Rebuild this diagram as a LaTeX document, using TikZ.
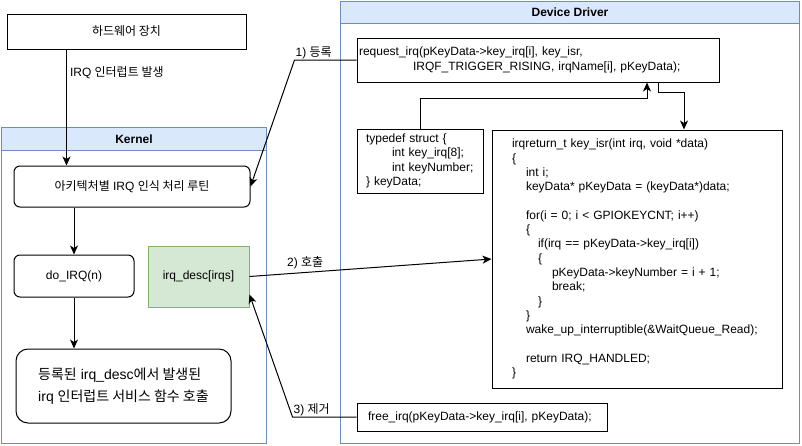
\documentclass[tikz,border=0pt]{standalone}
\usepackage{fontspec}
\setmainfont{Liberation Sans}
\newfontfamily\kr{Noto Sans CJK KR}
\usetikzlibrary{arrows.meta,calc}
\definecolor{bluefill}{HTML}{DAE8FC}
\definecolor{bluestroke}{HTML}{6C8EBF}
\definecolor{greenfill}{HTML}{D5E8D4}
\definecolor{greenstroke}{HTML}{82B366}
\tikzset{
 base/.style={draw=black, line width=1pt, inner sep=0pt, font=\fontsize{12}{14.3}\selectfont},
 box/.style={base, rectangle},
 rbox/.style={base, rounded corners=6pt},
 code/.style={box, align=left},
 cont/.style={draw=bluestroke, line width=1pt, inner sep=0pt},
 head/.style={draw=bluestroke, fill=bluefill, line width=1pt, inner sep=0pt, font=\bfseries\fontsize{12}{14}\selectfont},
 arr/.style={draw=black, line width=1pt, -{Stealth[length=9pt,width=8pt,inset=2.5pt]}},
 lbl/.style={font=\fontsize{12}{14}\selectfont, inner sep=1pt},
}
\begin{document}
\begin{tikzpicture}[x=1pt,y=-1pt]
\useasboundingbox (0,0) rectangle (802,445);
% containers
\node[cont, anchor=north west, minimum width=265pt, minimum height=316pt] (kernel) at (1,127) {};
\node[head, anchor=north west, minimum width=265pt, minimum height=23pt] (kernelhead) at (1,127) {Kernel};
\node[cont, anchor=north west, minimum width=459pt, minimum height=442pt] (driver) at (340,1) {};
\node[head, anchor=north west, minimum width=459pt, minimum height=22pt] (driverhead) at (340,1) {Device Driver};
% kernel side
\node[box, minimum width=239pt, minimum height=35pt] (hw) at (126.5,31.5) {{\kr 하드웨어 장치}};
\node[rbox, minimum width=236pt, minimum height=41pt] (arch) at (132,186.5) {{\kr 아키텍처별} IRQ {\kr 인식 처리 루틴}};
\node[rbox, minimum width=120pt, minimum height=42pt] (doirq) at (74,276) {do\_IRQ(n)};
\node[box, draw=greenstroke, fill=greenfill, minimum width=101pt, minimum height=61pt] (irqd) at (198.5,276.5) {irq\_desc[irqs]};
\node[base, rounded corners=12pt, align=left, minimum width=215pt, minimum height=74pt, font=\fontsize{14}{22}\selectfont] (final) at (123.5,386)
 {{\kr 등록된} irq\_desc{\kr 에서 발생된}\\irq {\kr 인터럽트 서비스 함수 호출}};
% driver side
\node[code, minimum width=362pt, minimum height=44pt, text width=358pt, inner xsep=2pt] (req) at (538,60)
 {request\_irq(pKeyData->key\_irq[i], key\_isr,\\\hspace*{54pt}IRQF\_TRIGGER\_RISING, irqName[i], pKeyData);};
\node[code, minimum width=126pt, minimum height=64pt, text width=108pt, inner xsep=9pt] (td) at (420,161)
 {typedef struct \{\\\hspace*{26pt}int key\_irq[8];\\\hspace*{26pt}int keyNumber;\\\} keyData;};
\node[code, minimum width=290pt, minimum height=258pt, text width=250pt, inner xsep=20pt] (isr) at (637,259)
 {irqreturn\_t key\_isr(int irq, void *data)\\
  \{\\
  \hspace*{14pt}int i;\\
  \hspace*{14pt}keyData* pKeyData = (keyData*)data;\\
  \mbox{}\\
  \hspace*{14pt}for(i = 0; i < GPIOKEYCNT; i++)\\
  \hspace*{14pt}\{\\
  \hspace*{26pt}if(irq == pKeyData->key\_irq[i])\\
  \hspace*{26pt}\{\\
  \hspace*{40pt}pKeyData->keyNumber = i + 1;\\
  \hspace*{40pt}break;\\
  \hspace*{26pt}\}\\
  \hspace*{14pt}\}\\
  \hspace*{14pt}wake\_up\_interruptible(\&WaitQueue\_Read);\\
  \mbox{}\\
  \hspace*{14pt}return IRQ\_HANDLED;\\
  \}};
\node[code, minimum width=250pt, minimum height=28pt, text width=228pt, inner xsep=11pt] (free) at (482,417)
 {free\_irq(pKeyData->key\_irq[i], pKeyData);};
% connectors
\coordinate (hwout) at ([xshift=60pt]hw.south west);
\draw[arr] (hwout) -- node[lbl, pos=0.2, anchor=west, xshift=2pt] (l0) {IRQ {\kr 인터럽트 발생}} (hwout |- arch.north);
\draw[arr] (doirq.north |- arch.south) -- (doirq.north);
\draw[arr] (doirq.south) -- (doirq.south |- final.north);
\coordinate (b1) at ([xshift=-62pt]req.west);
\draw[arr] (req.west) -- (b1) -- (arch.east);
\node[lbl, anchor=south west] (l1) at (b1) {1) {\kr 등록}};
\draw[arr] (irqd.east) -- node[lbl, pos=0.23, above, yshift=2pt] (l2) {2) {\kr 호출}} (isr.west);
\coordinate (b3) at ([xshift=-64pt]free.west);
\draw[arr] (free.west) -- (b3) -- ([yshift=-18pt]irqd.east);
\node[lbl, anchor=south west] (l3) at (b3) {3) {\kr 제거}};
\coordinate (t1) at ([yshift=-16pt]req.south);
\draw[arr] (td.north) -- (t1 -| td.north) -| ([xshift=109pt]req.south);
\draw[arr] ([xshift=120pt]req.south) -- ([xshift=120pt,yshift=-10pt]req.south) -- ([xshift=47pt,yshift=37pt]isr.north) -- ([xshift=47pt]isr.north);
\end{tikzpicture}
\end{document}
